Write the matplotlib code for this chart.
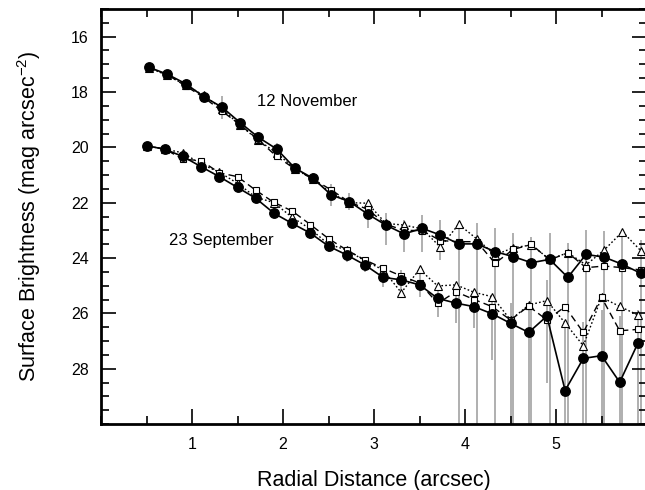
"""Surface brightness profiles, 12 November vs 23 September."""

import matplotlib
matplotlib.use("Agg")
import matplotlib.pyplot as plt
import matplotlib.ticker as mticker
import numpy as np

plt.rcParams.update({
    "font.family": ["Liberation Sans", "DejaVu Sans"],
    "mathtext.fontset": "custom",
    "mathtext.rm": "Liberation Sans",
    "mathtext.it": "Liberation Sans",
})

# ── Data ──
x_nov = [0.53, 0.73, 0.93, 1.13, 1.33, 1.53, 1.73, 1.93, 2.13, 2.33, 2.53, 2.73, 2.93, 3.13,
         3.33, 3.53, 3.73, 3.93, 4.13, 4.33, 4.53, 4.73, 4.93, 5.13, 5.33, 5.53, 5.73, 5.93]
x_sep = [0.50, 0.70, 0.90, 1.10, 1.30, 1.50, 1.70, 1.90, 2.10, 2.30, 2.50, 2.70, 2.90, 3.10,
         3.30, 3.50, 3.70, 3.90, 4.10, 4.30, 4.50, 4.70, 4.90, 5.10, 5.30, 5.50, 5.70, 5.90]

nov_circ = [17.11, 17.36, 17.70, 18.17, 18.55, 19.11, 19.64, 20.06, 20.75, 21.12, 21.72, 21.96, 22.41, 22.81,
            23.13, 22.93, 23.17, 23.49, 23.49, 23.77, 23.95, 24.17, 24.05, 24.70, 23.87, 23.97, 24.23, 24.55]
nov_sq = [17.12, 17.38, 17.78, 18.20, 18.69, 19.19, 19.73, 20.33, 20.78, 21.15, 21.54, 21.98, 22.24, 22.78,
          23.00, 23.01, 23.37, 23.41, 23.41, 24.19, 23.69, 23.51, 24.07, 23.81, 24.35, 24.29, 24.35, 24.43]
nov_tri = [17.13, 17.40, 17.75, 18.12, 18.62, 19.20, 19.75, 20.20, 20.78, 21.15, 21.65, 22.00, 22.02, 22.75,
           22.81, 22.95, 23.61, 22.78, 23.31, 23.89, 23.63, 23.53, 24.05, 23.81, 24.25, 23.71, 23.05, 23.73]
nov_err_up = [0.04, 0.05, 0.07, 0.15, 0.42, 0.15, 0.20, 0.20, 0.20, 0.20, 0.40, 0.30, 0.40, 0.43,
              0.50, 0.48, 0.54, 0.78, 0.75, 0.84, 0.85, 0.94, 0.95, 1.25, 0.88, 0.96, 1.10, 1.20]
nov_err_dn = [0.04, 0.05, 0.07, 0.15, 0.42, 0.15, 0.20, 0.20, 0.20, 0.20, 0.40, 0.30, 0.50, 0.72,
              0.64, 0.84, 0.90, 8.00, 8.00, 8.00, 8.00, 8.00, 8.00, 8.00, 8.00, 8.00, 8.00, 8.00]

sep_circ = [19.94, 20.07, 20.33, 20.70, 21.06, 21.45, 21.84, 22.38, 22.75, 23.10, 23.57, 23.89, 24.25, 24.70,
            24.79, 24.97, 25.46, 25.63, 25.76, 26.02, 26.36, 26.69, 26.10, 28.79, 27.63, 27.53, 28.49, 27.08]
sep_sq = [19.95, 20.06, 20.43, 20.48, 20.92, 21.06, 21.55, 21.99, 22.30, 22.79, 23.30, 23.71, 24.07, 24.37,
          24.65, 24.90, 25.64, 25.22, 25.50, 25.76, 26.24, 25.74, 26.24, 25.76, 26.69, 25.42, 26.63, 26.58]
sep_tri = [19.95, 20.06, 20.20, 20.60, 20.90, 21.30, 21.80, 22.00, 22.53, 22.95, 23.50, 23.71, 24.10, 24.43,
           25.25, 24.41, 25.01, 24.97, 25.24, 25.40, 26.24, 25.70, 25.54, 26.35, 27.17, 25.42, 25.75, 26.06]
sep_err_up = [0.05, 0.06, 0.08, 0.10, 0.12, 0.15, 0.15, 0.18, 0.18, 0.20, 0.22, 0.25, 0.27, 0.36,
              0.36, 0.42, 0.38, 0.60, 0.60, 0.60, 0.72, 0.80, 1.30, 2.50, 1.33, 1.65, 2.40, 1.20]
sep_err_dn = [0.05, 0.06, 0.08, 0.10, 0.12, 0.15, 0.15, 0.18, 0.18, 0.20, 0.22, 0.25, 0.27, 0.36,
              0.36, 0.45, 0.66, 0.72, 0.78, 1.67, 8.00, 8.00, 2.40, 8.00, 8.00, 8.00, 8.00, 8.00]

# ── Figure ──
fig = plt.figure(figsize=(6.45, 4.90), dpi=100)
ax = fig.add_axes([101 / 645, 66 / 490, 546 / 645, 415 / 490])

ERR_COLOR = "#9a9a9a"

for xs, yc, eu, ed in [(x_nov, nov_circ, nov_err_up, nov_err_dn),
                       (x_sep, sep_circ, sep_err_up, sep_err_dn)]:
    ax.errorbar(xs, yc, yerr=[eu, ed], fmt="none", ecolor=ERR_COLOR,
                elinewidth=1.1, capsize=0, zorder=1)

for xs, ytri, ysq, yc in [(x_nov, nov_tri, nov_sq, nov_circ),
                          (x_sep, sep_tri, sep_sq, sep_circ)]:
    ax.plot(xs, ytri, color="black", lw=1.0, ls=(0, (1.2, 1.6)),
            marker="^", ms=6, mfc="white", mec="black", mew=0.8, zorder=2)
    ax.plot(xs, ysq, color="black", lw=1.0, ls=(0, (5, 3)),
            marker="s", ms=5, mfc="white", mec="black", mew=0.8, zorder=3)
    ax.plot(xs, yc, color="black", lw=1.2, ls="-",
            marker="o", ms=6.8, mfc="black", mec="black", zorder=4)

ax.text(1.71, 18.36, "12 November", fontsize=12, ha="left", va="center")
ax.text(0.75, 23.35, "23 September", fontsize=12, ha="left", va="center")

ax.set_xlim(0, 6)
ax.set_ylim(30, 15)
ax.xaxis.set_major_locator(mticker.FixedLocator([1, 2, 3, 4, 5]))
ax.xaxis.set_minor_locator(mticker.MultipleLocator(0.5))
ax.yaxis.set_major_locator(mticker.FixedLocator([16, 18, 20, 22, 24, 26, 28]))
ax.yaxis.set_minor_locator(mticker.MultipleLocator(0.5))
ax.tick_params(which="both", direction="in", top=True, right=True, width=1.2)
ax.tick_params(which="major", length=11, labelsize=11.5, pad=9)
ax.tick_params(which="minor", length=6)
for sp in ax.spines.values():
    sp.set_linewidth(2)

ax.set_xlabel("Radial Distance (arcsec)", fontsize=15.5)
ax.set_ylabel("Surface Brightness (mag arcsec$^{-2}$)", fontsize=15.5)
ax.xaxis.set_label_coords(0.5, -0.11)
ax.yaxis.set_label_coords(-0.107, 0.5)

fig.savefig("out.png", dpi=100)
